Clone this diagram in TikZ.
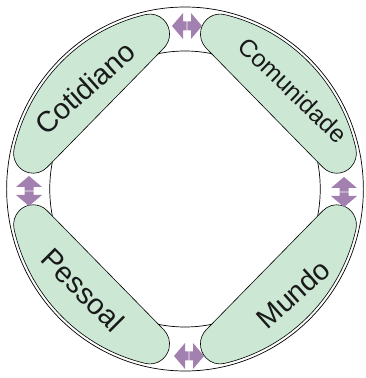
\documentclass[tikz,border=0pt]{standalone}
\usepackage{fontspec}
\setmainfont{Liberation Sans}
\definecolor{leaf}{RGB}{204,232,212}
\definecolor{lilac}{RGB}{162,128,176}
\tikzset{
  ring/.style={draw=black, line width=0.7pt},
  blob/.style={draw=black, line width=0.6pt, fill=leaf},
  arr/.style={fill=lilac, draw=none},
  lbl/.style={text=black!90, inner sep=0pt},
}
\begin{document}
\begin{tikzpicture}[x=1pt,y=1pt]
\useasboundingbox (0,0) rectangle (365,378);
\begin{scope}[shift={(185,189)}, xscale=0.98]
  \draw[ring] (0,0) circle [radius=182];
  \draw[ring] (0,0) circle [radius=138];
  \foreach \a in {45,135,225,315} {
    \begin{scope}[rotate=\a]
      \draw[blob] (-32:179) arc[start angle=-32, end angle=32, radius=179]
        arc[start angle=32, end angle=180, radius=20]
        -- (114.84,-84.26)
        arc[start angle=180, end angle=328, radius=20] -- cycle;
    \end{scope}
  }
\end{scope}
% double arrows
\foreach \x/\y/\r in {187/352/0, 189/22/0, 29/187/90, 344/186/90} {
  \begin{scope}[shift={(\x,\y)}, rotate=\r]
    \fill[arr] (-15,0) -- (-4,13) -- (-4,4.5) -- (-0.4,4.5) -- (-0.4,-4.5) -- (-4,-4.5) -- (-4,-13) -- cycle;
    \fill[arr] (15,0) -- (4,13) -- (4,4.5) -- (0.4,4.5) -- (0.4,-4.5) -- (4,-4.5) -- (4,-13) -- cycle;
  \end{scope}
}
\node[lbl, font=\fontsize{29}{29}\selectfont, rotate=42] (cot) at (85,290) {Cotidiano};
\node[lbl, font=\fontsize{24.5}{24.5}\selectfont, rotate=-44] (com) at (293,288) {Comunidade};
\node[lbl, font=\fontsize{29}{29}\selectfont, rotate=-45] (pes) at (83,88) {Pessoal};
\node[lbl, font=\fontsize{28.5}{28.5}\selectfont, rotate=42] (mun) at (293,84) {Mundo};
\end{tikzpicture}
\end{document}
